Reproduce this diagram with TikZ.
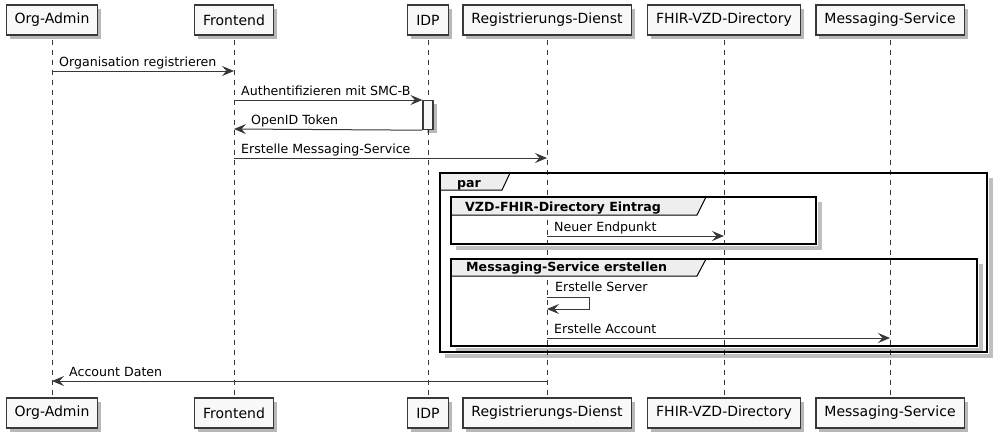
\documentclass[tikz,border=0pt]{standalone}
\usepackage{fontspec}
\setmainfont{DejaVu Sans}
\usetikzlibrary{arrows.meta,shadows,calc}
\definecolor{ln}{HTML}{383838}
\definecolor{boxfill}{HTML}{F8F8F8}
\definecolor{tabfill}{HTML}{EEEEEE}
\begin{document}
\begin{tikzpicture}[x=1pt,y=-1pt,
 psh/.style={drop shadow={shadow xshift=3.5pt, shadow yshift=-3.5pt, fill=black, opacity=0.28}},
 part/.style={draw=ln, line width=1.2pt, fill=boxfill, minimum height=30pt, inner xsep=8.5pt, inner ysep=0pt,
   font=\fontsize{14}{16}\selectfont, psh},
 actbox/.style={draw=ln, line width=1.2pt, fill=boxfill, minimum width=10pt, minimum height=29pt, inner sep=0pt, anchor=north, psh},
 lifeline/.style={draw=ln, line width=0.9pt, dash pattern=on 5pt off 5pt},
 msg/.style={draw=ln, line width=1pt, -{Stealth[length=12pt,width=10pt,inset=4.5pt]}},
 lbl/.style={inner sep=0pt, anchor=base west, font=\fontsize{12.6}{14}\selectfont},
 flbl/.style={inner sep=0pt, anchor=base west, font=\fontsize{12.6}{14}\selectfont\bfseries},
 frame/.style={draw=black, line width=2.5pt},
 tab/.style={draw=black, line width=1pt, fill=tabfill},
 fshadow/.style={draw=black, opacity=0.25, line width=3.5pt},
]
\useasboundingbox (0,0) rectangle (1000,442);

% participants
\node[part] (oaT) at (52,20) {Org-Admin};
\node[part] (feT) at (234,20) {Frontend};
\node[part] (idpT) at (428,20) {IDP};
\node[part] (rdT) at (547,20) {Registrierungs-Dienst};
\node[part] (fhT) at (724,20) {FHIR-VZD-Directory};
\node[part] (msT) at (890,20) {Messaging-Service};
\node[part] (oaB) at (52,413) {Org-Admin};
\node[part] (feB) at (234,413) {Frontend};
\node[part] (idpB) at (428,413) {IDP};
\node[part] (rdB) at (547,413) {Registrierungs-Dienst};
\node[part] (fhB) at (724,413) {FHIR-VZD-Directory};
\node[part] (msB) at (890,413) {Messaging-Service};

% lifelines
\draw[lifeline] ([yshift=-4pt]oaT.south) -- (oaB.north);
\draw[lifeline] ([yshift=-4pt]feT.south) -- (feB.north);
\draw[lifeline] ([yshift=-4pt]idpT.south) -- (idpB.north);
\draw[lifeline] ([yshift=-4pt]rdT.south) -- (rdB.north);
\draw[lifeline] ([yshift=-4pt]fhT.south) -- (fhB.north);
\draw[lifeline] ([yshift=-4pt]msT.south) -- (msB.north);

% message rows
\coordinate (y1) at (0,71);
\coordinate (y2) at (0,100);
\coordinate (y3) at (0,129);
\coordinate (y4) at (0,158);
\coordinate (y5) at (0,236);
\coordinate (y6) at (0,297);
\coordinate (y6b) at (0,309);
\coordinate (y7) at (0,338);
\coordinate (y8) at (0,381);

% par frame
\draw[fshadow] (991,178) -- (991,356) -- (445,356);
\draw[tab] (440,173) -- (510,173) -- (502,190) -- (440,190) -- cycle;
\draw[frame] (440,173) rectangle (987,352);
\node[flbl] (fpar) at (457,187) {par};

% inner frame 1
\draw[fshadow] (820,202) -- (820,248) -- (456,248);
\draw[tab] (451,197) -- (706,197) -- (697,215) -- (451,215) -- cycle;
\draw[frame] (451,197) rectangle (816,244);
\node[flbl] (fvzd) at (465,211.5) {VZD-FHIR-Directory Eintrag};

% inner frame 2
\draw[fshadow] (981,264) -- (981,350) -- (456,350);
\draw[tab] (451,259) -- (706,259) -- (697,276) -- (451,276) -- cycle;
\draw[frame] (451,259) rectangle (977,346);
\node[flbl] (fms) at (466,271.5) {Messaging-Service erstellen};

% activation
\node[actbox] (act) at (idpT |- y2) {};

% messages
\draw[msg] (oaT |- y1) -- (feT |- y1);
\node[lbl] (t1) at ($(oaT |- y1)+(7,-5)$) {Organisation registrieren};

\draw[msg] (feT |- y2) -- (act.north west);
\node[lbl] (t2) at ($(feT |- y2)+(7,-5)$) {Authentifizieren mit SMC-B};

\draw[msg] (act.south west) -- (feT |- y3);
\node[lbl] (t3) at ($(feT |- y3)+(17,-5)$) {OpenID Token};

\draw[msg] (feT |- y4) -- (rdT |- y4);
\node[lbl] (t4) at ($(feT |- y4)+(7,-5)$) {Erstelle Messaging-Service};

\draw[msg] (rdT |- y5) -- (fhT |- y5);
\node[lbl] (t5) at ($(rdT |- y5)+(7,-5)$) {Neuer Endpunkt};

\draw[msg] (rdT |- y6) -- ++(42,0) -- ++(0,12) -- (rdT |- y6b);
\node[lbl] (t6) at ($(rdT |- y6)+(8,-6)$) {Erstelle Server};

\draw[msg] (rdT |- y7) -- (msT |- y7);
\node[lbl] (t7) at ($(rdT |- y7)+(7,-5)$) {Erstelle Account};

\draw[msg] (rdT |- y8) -- (oaT |- y8);
\node[lbl] (t8) at ($(oaT |- y8)+(17,-5)$) {Account Daten};
\end{tikzpicture}
\end{document}
